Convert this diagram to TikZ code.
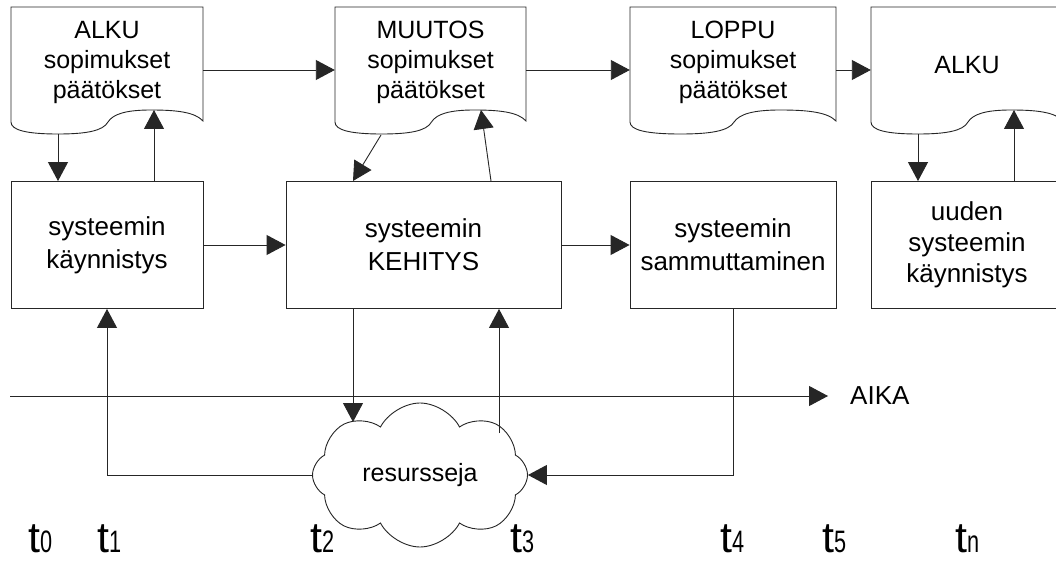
\documentclass[tikz,border=0pt]{standalone}
\usepackage{fontspec}
\setmainfont{Liberation Sans}
\usetikzlibrary{arrows.meta,shapes.symbols}

% wavy-bottomed document outline, local width 192, scaled to the given width
\newcommand\docframe[2]{% #1 left x, #2 width
  \begin{scope}[shift={(#1,0)}, xscale=#2/192]
    \draw[frame, fill=white] (0,7) -- (192,7) -- (192,121)
      .. controls (184,112) and (165,110) .. (140,110)
      .. controls (115,110) and (102,114) .. (97,122)
      .. controls (92,131) and (75,134) .. (47,134)
      .. controls (15,134) and (0,130) .. (0,122) -- cycle;
  \end{scope}}

\begin{document}
\begin{tikzpicture}[x=1pt,y=-1pt,
  frame/.style={draw=black!85, line width=0.9pt},
  arr/.style={draw=black!85, line width=0.9pt, -{Triangle[length=19pt,width=20pt]}},
  procbox/.style={frame, fill=white, rectangle, minimum height=127pt, align=center,
    font=\fontsize{26}{33}\selectfont, inner sep=0pt},
  docnode/.style={rectangle, minimum height=126pt, inner sep=0pt},
  doctext/.style={align=center, font=\fontsize{25}{30}\selectfont, inner sep=0pt},
  tlab/.style={font=\fontsize{43}{43}\selectfont, anchor=base west, inner sep=0pt},
]
\newcommand\sub[1]{\scalebox{0.7}[1]{\fontsize{31}{31}\selectfont #1}}
\useasboundingbox (0,0) rectangle (1056,561);
\fill[white] (0,0) rectangle (1056,561);
\clip (0,0) rectangle (1056,561);

% documents along the top
\docframe{11}{192}
\docframe{335}{191}
\docframe{630}{206}
\docframe{871}{192}
\node[docnode, minimum width=192pt] (alku)   at (107,70) {};
\node[docnode, minimum width=191pt] (muutos) at (430.5,70) {};
\node[docnode, minimum width=206pt] (loppu)  at (733,70) {};
\node[docnode, minimum width=192pt] (alku2)  at (967,70) {};
\node[doctext] (alkut)   at (107,62) {ALKU\\sopimukset\\päätökset};
\node[doctext] (muutost) at (430.5,62) {MUUTOS\\sopimukset\\päätökset};
\node[doctext] (lopput)  at (733,62) {LOPPU\\sopimukset\\päätökset};
\node[doctext] (alku2t)  at (967,65) {ALKU};

% process boxes
\node[procbox, minimum width=192pt] (kaynn) at (107,245) {systeemin\\käynnistys};
\node[procbox, minimum width=275pt] (keh)   at (423.5,245) {systeemin\\KEHITYS};
\node[procbox, minimum width=206pt] (samm)  at (733,245) {systeemin\\sammuttaminen};
\node[procbox, minimum width=192pt, font=\fontsize{26}{31}\selectfont] (uusi) at (967,245) {uuden\\systeemin\\käynnistys};

% resources
\node[cloud, frame, fill=white, cloud puffs=8, cloud puff arc=125, cloud ignores aspect,
  minimum width=215pt, minimum height=144pt, inner sep=0pt,
  font=\fontsize{25}{30}\selectfont] (res) at (420,475) {resursseja};

% time axis
\coordinate (axstart) at (10,396);
\node[anchor=west, inner sep=0pt, font=\fontsize{26}{30}\selectfont] (aika) at (850,396) {AIKA};
\draw[arr, shorten >=22pt] (axstart) -- (aika.west);

% contact points on the wavy edges and the cloud
\coordinate (alkuD)   at (58,134);
\coordinate (alkuU)   at (154,110);
\coordinate (muutosD) at (381,135);
\coordinate (muutosU) at (481,110);
\coordinate (kehD)    at (491,181);
\coordinate (kehU)    at (353,181);
\coordinate (alku2D)  at (918,134);
\coordinate (alku2U)  at (1014,110);
\coordinate (resTop)  at (353,422);
\coordinate (resOut)  at (499,433);

% flow between documents
\draw[arr] (alku.east) -- (muutos.west);
\draw[arr] (muutos.east) -- (loppu.west);
\draw[arr] (loppu.east) -- (alku2.west);

% documents and processes
\draw[arr] (alkuD) -- (alkuD |- kaynn.north);
\draw[arr] (alkuU |- kaynn.north) -- (alkuU);
\draw[arr] (muutosD) -- (kehU);
\draw[arr] (kehD) -- (muutosU);
\draw[arr] (alku2D) -- (alku2D |- uusi.north);
\draw[arr] (alku2U |- uusi.north) -- (alku2U);

% process chain
\draw[arr] (kaynn.east) -- (keh.west);
\draw[arr] (keh.east) -- (samm.west);

% resources loop
\draw[arr] (resTop |- keh.south) -- (resTop);
\draw[arr] (resOut) -- (resOut |- keh.south);
\draw[arr] (res.west) -| (kaynn.south);
\draw[arr] (samm.south) |- (res.east);

% time marks
\node[tlab] (t0) at (28,552)  {t\sub{0}};
\node[tlab] (t1) at (97,552)  {t\sub{1}};
\node[tlab] (t2) at (310,552) {t\sub{2}};
\node[tlab] (t3) at (510,552) {t\sub{3}};
\node[tlab] (t4) at (720,552) {t\sub{4}};
\node[tlab] (t5) at (822,552) {t\sub{5}};
\node[tlab] (tn) at (955,552) {t\sub{n}};
\end{tikzpicture}
\end{document}
